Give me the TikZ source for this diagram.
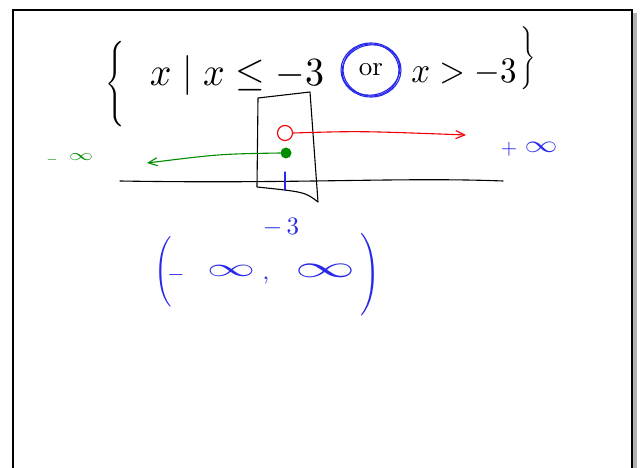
\documentclass[tikz,border=0pt]{standalone}
\usepackage{graphicx}
\usetikzlibrary{arrows.meta}
\definecolor{penblue}{RGB}{40,40,235}
\definecolor{pengreen}{RGB}{0,140,0}
\definecolor{penred}{RGB}{240,0,0}
\tikzset{
  txt/.style={inner sep=0pt},
  stroke/.style={line width=1.1pt, line cap=round, line join=round},
  barb/.style={-{Straight Barb[length=9pt,width=8pt]}}
}
\newcommand{\flatinf}[2]{\scalebox{#1}[#2]{$\infty$}}
\begin{document}
\begin{tikzpicture}[x=1pt,y=-1pt]
\useasboundingbox (0,0) rectangle (640,468);
\fill[white] (0,0) rectangle (640,468);
% page frame with shadow
\fill[gray!60] (633,13) rectangle (637,468);
\draw[line width=1.6pt] (13,468) -- (13,10) -- (632,10) -- (632,468);

% set-builder expression
\node[txt] (lbr) at (115,84) {\scalebox{2.4}[2.85]{$\Bigg\{$}};
\node[txt] (lhs) at (237,76) {\scalebox{3.8}[4]{$x \mid x \leq -3$}};
\node[txt] (or) at (371,70) {\scalebox{2.7}{or}};
\draw[penblue, stroke] (or.center) ellipse (30pt and 27pt);
\draw[penblue, stroke, rotate around={12:(or.center)}] (or.center) ellipse (29pt and 25pt);
\draw[penblue, stroke, rotate around={-8:(or.center)}] (or.center) ellipse (28pt and 26pt);
\node[txt] (rhs) at (464,72) {\scalebox{3.3}[3.6]{$x > -3$}};
\node[txt] (rbr) at (528,58) {\scalebox{1.9}[2.1]{$\Bigg\}$}};

% box around -3
\node[inner sep=0pt, minimum size=0pt] (b1) at (258,98) {};
\node[inner sep=0pt, minimum size=0pt] (b2) at (310,92) {};
\node[inner sep=0pt, minimum size=0pt] (b3) at (318,202) {};
\node[inner sep=0pt, minimum size=0pt] (b4) at (257,187) {};
\draw[stroke] (b1.center) -- (b2.center) -- (b3.center) .. controls (305,192) .. (b4.center) -- cycle;

% number line
\coordinate (nl1) at (120,181);
\coordinate (nl2) at (503,181);
\draw[stroke] (nl1) .. controls (300,184) and (400,177) .. (nl2);
\coordinate (t1) at (285,172);
\coordinate (t2) at (285,190);
\draw[penblue, stroke] (t1) -- (t2);
\node[txt, text=penblue] (m3) at (281,227) {\scalebox{2.5}{$-\,3$}};

% open red circle and arrow to +infinity
\node[draw=penred, stroke, circle, minimum size=15pt, inner sep=0pt] (oc) at (285,133) {};
\coordinate (ra) at (466,135);
\draw[penred, stroke, barb] (oc.east) .. controls (360,131) .. (ra);
\node[txt, text=penblue] (pplus) at (509,149) {\scalebox{2.1}{$+$}};
\node[txt, text=penblue] (pinf) at (541,147) {\flatinf{3.3}{2.4}};

% filled green dot and arrow to -infinity
\node[fill=pengreen, circle, minimum size=11pt, inner sep=0pt] (cd) at (286,153) {};
\coordinate (ga) at (147,163);
\draw[pengreen, stroke, barb] (cd.west) .. controls (220,154) .. (ga);
\node[txt, text=pengreen] (mminus) at (52,160) {\scalebox{1.4}{$-$}};
\node[txt, text=pengreen] (minf) at (81,157) {\flatinf{2.4}{1.6}};

% interval notation
\node[txt, text=penblue] (lp) at (163,272) {\scalebox{2.2}[2.35]{$\Bigg($}};
\node[txt, text=penblue] (neg) at (176,275) {\scalebox{2.2}{$-$}};
\node[txt, text=penblue] (inf1) at (231,271) {\flatinf{4.8}{2.6}};
\node[txt, text=penblue] (comma) at (266,281) {\scalebox{2.4}{,}};
\node[txt, text=penblue] (inf2) at (325,271) {\flatinf{6}{3.1}};
\node[txt, text=penblue] (rp) at (370,275) {\scalebox{2.5}[2.75]{$\Bigg)$}};
\end{tikzpicture}
\end{document}
